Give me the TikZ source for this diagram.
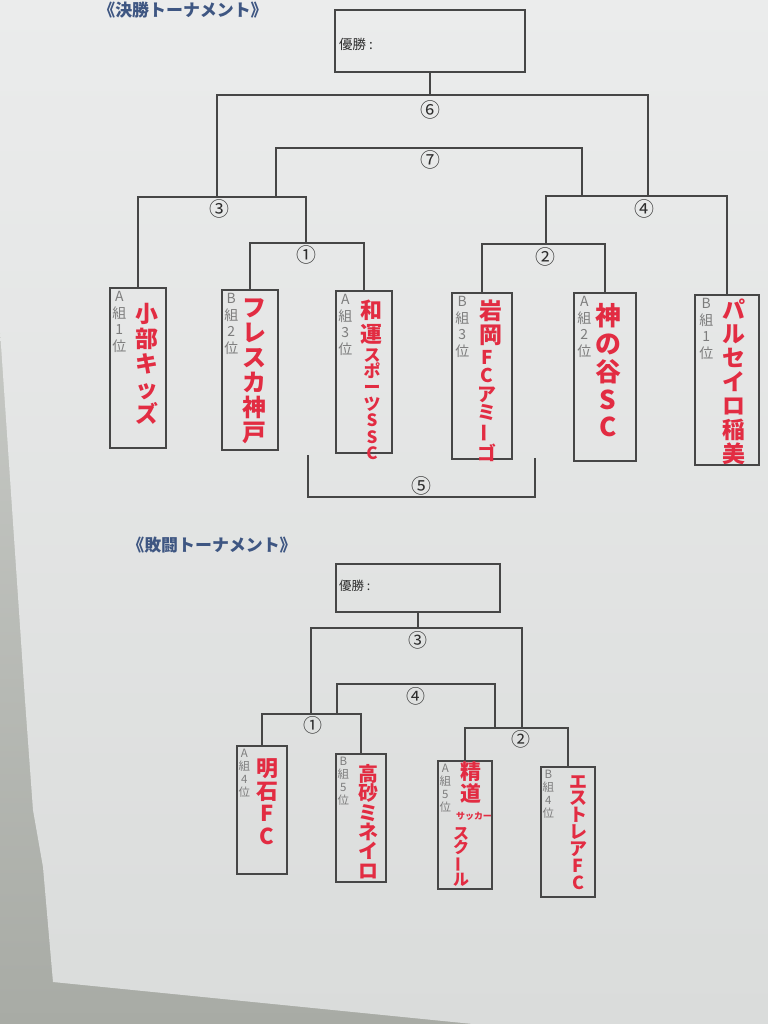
\documentclass[tikz,border=0pt]{standalone}
\usepackage{fontspec}
\newfontfamily\jp{Noto Sans CJK JP}
\usetikzlibrary{calc}
\definecolor{bgtop}{RGB}{212,214,211}
\definecolor{bgbot}{RGB}{168,171,165}
\definecolor{papertop}{RGB}{235,236,236}
\definecolor{paperbot}{RGB}{218,220,219}
\definecolor{linec}{RGB}{70,70,70}
\definecolor{redc}{RGB}{226,44,66}
\definecolor{grayc}{RGB}{125,125,125}
\definecolor{numc}{RGB}{45,45,45}
\definecolor{titlec}{RGB}{62,86,130}
\tikzset{
  ln/.style={draw=linec, line width=1.4bp},
  tbox/.style={draw=linec, line width=1.4bp, rectangle, inner sep=0pt},
  grp/.style={text=grayc, font=\jp\fontsize{14}{16.5}\selectfont, align=center, inner sep=0pt, anchor=north},
  grps/.style={text=grayc, font=\jp\fontsize{11.5}{13}\selectfont, align=center, inner sep=0pt, anchor=north},
  team/.style={text=redc, align=center, inner sep=0pt, anchor=north},
  num/.style={text=numc, font=\jp\fontsize{20}{20}\selectfont, inner sep=0pt},
  nums/.style={text=numc, font=\jp\fontsize{19}{19}\selectfont, inner sep=0pt},
  ttl/.style={text=titlec, font=\jp\bfseries\fontsize{17}{17}\selectfont, inner sep=0pt},
  wtxt/.style={text=numc, font=\jp\fontsize{13.5}{14}\selectfont, inner sep=0pt, anchor=west}
}
\begin{document}
\begin{tikzpicture}[x=1bp,y=-1bp]
\useasboundingbox (0,0) rectangle (768,1024);
% photo background and paper
\shade[top color=bgtop, bottom color=bgbot] (0,0) rectangle (768,1024);
\shade[top color=papertop, bottom color=paperbot]
  (0,0) -- (768,0) -- (768,1024) -- (473,1024) -- (53,982) -- (43,867) -- (33,810) -- (25,700) -- (0,330) -- cycle;

% ===== top tournament =====
\node[ttl] (title1) at (183,10) {《決勝トーナメント》};
\node[tbox, minimum width=190bp, minimum height=62bp] (win) at (430,41) {};
\node[wtxt] (wint) at (339,44) {優勝 :};

% team boxes
\node[tbox, minimum width=56bp, minimum height=160bp] (tA1) at (138,368) {};
\node[tbox, minimum width=56bp, minimum height=160bp] (tB2) at (250,370) {};
\node[tbox, minimum width=56bp, minimum height=162bp] (tA3) at (364,372) {};
\node[tbox, minimum width=60bp, minimum height=166bp] (tB3) at (482,376) {};
\node[tbox, minimum width=62bp, minimum height=168bp] (tA2) at (605,377) {};
\node[tbox, minimum width=64bp, minimum height=170bp] (tB1) at (727,380) {};

% group labels
\node[grp] (gA1) at ($(tA1.north west)+(10,4)$) {A\\組\\1\\位};
\node[grp] (gB2) at ($(tB2.north west)+(10,4)$) {B\\組\\2\\位};
\node[grp] (gA3) at ($(tA3.north west)+(10,4)$) {A\\組\\3\\位};
\node[grp] (gB3) at ($(tB3.north west)+(11,4)$) {B\\組\\3\\位};
\node[grp] (gA2) at ($(tA2.north west)+(11,4)$) {A\\組\\2\\位};
\node[grp] (gB1) at ($(tB1.north west)+(12,4)$) {B\\組\\1\\位};

% team names (handwritten red)
\node[team, font=\jp\bfseries\fontsize{23}{25}\selectfont] (nA1) at (147,303) {小\\部\\キ\\ッ\\ズ};
\node[team, font=\jp\bfseries\fontsize{24}{25}\selectfont] (nB2) at (254,299) {フ\\レ\\ス\\カ\\神\\戸};
\node[team, font=\jp\bfseries\fontsize{22}{24}\selectfont] (nA3a) at (371,300) {和\\運};
\node[team, font=\jp\bfseries\fontsize{17}{16.5}\selectfont] (nA3b) at (372,348) {ス\\ポ\\ー\\ツ\\S\\S\\C};
\node[team, font=\jp\bfseries\fontsize{23}{24}\selectfont] (nB3a) at (491,300) {岩\\岡};
\node[team, font=\jp\bfseries\fontsize{19}{18.5}\selectfont] (nB3b) at (487,350) {F\\C\\ア\\ミ\\\rotatebox[origin=c]{90}{ー}\\ゴ};
\node[team, font=\jp\bfseries\fontsize{26}{28}\selectfont] (nA2) at (608,303) {神\\の\\谷\\S\\C};
\node[team, font=\jp\bfseries\fontsize{23}{24}\selectfont] (nB1) at (734,299) {パ\\ル\\セ\\イ\\ロ\\稲\\美};

% match points
\coordinate (m6) at (430,95);
\coordinate (m7) at (430,148);
\coordinate (m3) at (217,197);
\coordinate (m4) at (648,196);
\coordinate (m1) at (306,243);
\coordinate (m2) at (546,244);
\coordinate (s7l) at (276,197);
\coordinate (s7r) at (582,196);
\coordinate (s5l) at (308,455);
\coordinate (m5) at (421,497);
\coordinate (s5r) at (535,458);

% bracket lines
\draw[ln] (tB2.north) |- (m1) -| (tA3.north);
\draw[ln] (tB3.north) |- (m2) -| (tA2.north);
\draw[ln] (tA1.north) |- (m3) -| (m1);
\draw[ln] (m2) |- (m4) -| (tB1.north);
\draw[ln] (m3) |- (m6) -| (m4);
\draw[ln] (win.south) -- (m6);
\draw[ln] (s7l) |- (m7) -| (s7r);
\draw[ln] (s5l) |- (m5) -| (s5r);

% match numbers
\node[num] (c6) at (430,110) {⑥};
\node[num] (c7) at (430,160) {⑦};
\node[num] (c3) at (219,209) {③};
\node[num] (c4) at (644,209) {④};
\node[num] (c1) at (306,255) {①};
\node[num] (c2) at (545,257) {②};
\node[num] (c5) at (421,486) {⑤};

% ===== bottom tournament =====
\node[ttl] (title2) at (212,545) {《敗闘トーナメント》};
\node[tbox, minimum width=164bp, minimum height=48bp] (win2) at (418,588) {};
\node[wtxt, font=\jp\fontsize{12.5}{13}\selectfont] (win2t) at (339,586) {優勝 :};

\node[tbox, minimum width=50bp, minimum height=128bp] (bA4) at (262,810) {};
\node[tbox, minimum width=50bp, minimum height=128bp] (bB5) at (361,818) {};
\node[tbox, minimum width=54bp, minimum height=128bp] (bA5) at (465,825) {};
\node[tbox, minimum width=54bp, minimum height=130bp] (bB4) at (568,832) {};

\node[grps] (gbA4) at ($(bA4.north west)+(8,4)$) {A\\組\\4\\位};
\node[grps] (gbB5) at ($(bB5.north west)+(8,4)$) {B\\組\\5\\位};
\node[grps] (gbA5) at ($(bA5.north west)+(8,4)$) {A\\組\\5\\位};
\node[grps] (gbB4) at ($(bB4.north west)+(8,4)$) {B\\組\\4\\位};

\node[team, font=\jp\bfseries\fontsize{22}{23}\selectfont] (nbA4) at (267,758) {明\\石\\F\\C};
\node[team, font=\jp\bfseries\fontsize{20}{19.5}\selectfont] (nbB5) at (368,764) {高\\砂\\ミ\\ネ\\イ\\ロ};
\node[team, font=\jp\bfseries\fontsize{21}{23}\selectfont] (nbA5a) at (471,761) {精\\道};
\node[team, font=\jp\bfseries\fontsize{9}{9}\selectfont] (nbA5b) at (474,812) {サッカー};
\node[team, font=\jp\bfseries\fontsize{16}{14.5}\selectfont] (nbA5c) at (461,827) {ス\\ク\\\rotatebox[origin=c]{90}{ー}\\ル};
\node[team, font=\jp\bfseries\fontsize{18}{17}\selectfont] (nbB4) at (578,775) {エ\\ス\\ト\\レ\\ア\\F\\C};

\coordinate (bm3) at (418,628);
\coordinate (bm1) at (311,714);
\coordinate (bm2) at (522,728);
\coordinate (bm4) at (416,684);
\coordinate (b4l) at (337,714);
\coordinate (b4r) at (495,728);

\draw[ln] (bA4.north) |- (bm1) -| (bB5.north);
\draw[ln] (bA5.north) |- (bm2) -| (bB4.north);
\draw[ln] (bm1) |- (bm3) -| (bm2);
\draw[ln] (win2.south) -- (bm3);
\draw[ln] (b4l) |- (bm4) -| (b4r);

\node[nums] (bc3) at (418,640) {③};
\node[nums] (bc4) at (416,696) {④};
\node[nums] (bc1) at (313,725) {①};
\node[nums] (bc2) at (521,739) {②};
\end{tikzpicture}
\end{document}
